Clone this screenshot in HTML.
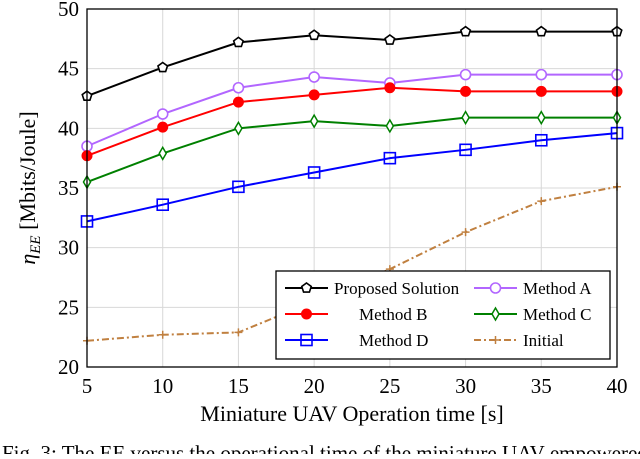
<!DOCTYPE html>
<html><head><meta charset="utf-8"><style>
body{margin:0;background:#fff;width:640px;height:454px;overflow:hidden;font-family:"Liberation Serif",serif}
svg text{font-family:"Liberation Serif",serif}
</style></head><body>
<svg id="c" width="640" height="454"></svg>
<script>
const xCats=[5,10,15,20,25,30,35,40];
const yTicks=[20,25,30,35,40,45,50];
const proposed=[42.7,45.1,47.2,47.8,47.4,48.1,48.1,48.1];
const methodA=[38.5,41.2,43.4,44.3,43.8,44.5,44.5,44.5];
const methodB=[37.7,40.1,42.2,42.8,43.4,43.1,43.1,43.1];
const methodC=[35.5,37.9,40.0,40.6,40.2,40.9,40.9,40.9];
const methodD=[32.2,33.6,35.1,36.3,37.5,38.2,39.0,39.6];
const initial=[22.2,22.7,22.9,25.5,28.2,31.3,33.9,35.1];
const L=87,R=617,T=9,B=367;
const X=v=>L+(v-5)/35*(R-L), Y=v=>B-(v-20)/30*(B-T);
const s=document.getElementById('c'),NS='http://www.w3.org/2000/svg';
function el(t,a,p){const e=document.createElementNS(NS,t);for(const k in a)e.setAttribute(k,a[k]);(p||s).appendChild(e);return e;}
xCats.forEach(v=>{const g=el('line',{x1:X(v),x2:X(v),y1:T,y2:B,stroke:'#d8d8d8','stroke-width':1});


const t=el('text',{x:X(v),y:393,'text-anchor':'middle','font-size':21});t.textContent=v;

});
yTicks.forEach(v=>{const g=el('line',{x1:L,x2:R,y1:Y(v),y2:Y(v),stroke:'#d8d8d8','stroke-width':1});


const t=el('text',{x:79,y:Y(v)+7,'text-anchor':'end','font-size':21});t.textContent=v;

});
function marker(type,x,y,c,g){
 if(type==='pent'){let p=[];for(let i=0;i<5;i++){const a=-Math.PI/2+i*2*Math.PI/5;p.push((x+5*Math.cos(a))+','+(y+5*Math.sin(a)));}
  return el('polygon',{points:p.join(' '),fill:'#fff',stroke:c,'stroke-width':1.6},g);}
 if(type==='circ')return el('circle',{cx:x,cy:y,r:5,fill:'#fff',stroke:c,'stroke-width':1.6},g);
 if(type==='dot')return el('circle',{cx:x,cy:y,r:5,fill:c,stroke:c},g);
 if(type==='sq')return el('rect',{x:x-5.5,y:y-5.5,width:11,height:11,fill:'none',stroke:c,'stroke-width':1.6},g);
 if(type==='dia')return el('polygon',{points:`${x},${y-6} ${x+3.5},${y} ${x},${y+6} ${x-3.5},${y}`,fill:'#fff',stroke:c,'stroke-width':1.5},g);
 if(type==='plus')return el('path',{d:`M${x-4},${y}H${x+4}M${x},${y-4}V${y+4}`,stroke:c,'stroke-width':1.5},g);
}
const series=[[proposed,'#000','pent','series-proposed',''],[methodA,'#b266ff','circ','series-method-a',''],[methodB,'#ff0000','dot','series-method-b',''],[methodC,'#008000','dia','series-method-c',''],[methodD,'#0000ff','sq','series-method-d',''],[initial,'#c08040','plus','series-initial','7,3,2,3']];
series.forEach(([d,c,m,n,da])=>{const g=el('g',{});


el('polyline',{points:d.map((v,i)=>X(xCats[i])+','+Y(v)).join(' '),fill:'none',stroke:c,'stroke-width':2,'stroke-dasharray':da},g);
d.forEach((v,i)=>marker(m,X(xCats[i]),Y(v),c,g));});
const ax=el('rect',{x:L,y:T,width:R-L,height:B-T,fill:'none',stroke:'#000','stroke-width':1.3});


const lg=el('g',{});


el('rect',{x:276,y:271,width:334,height:88,fill:'#fff',stroke:'#000','stroke-width':1.3},lg);
const ent=[[0,'Proposed Solution',285,288,334],[1,'Method A',474,288,523],[2,'Method B',285,314,359],[3,'Method C',474,314,523],[4,'Method D',285,340,359],[5,'Initial',474,340,523]];
ent.forEach(([i,txt,x,y,tx])=>{const [d,c,m,n,da]=series[i];
el('line',{x1:x,x2:x+43,y1:y,y2:y,stroke:c,'stroke-width':2,'stroke-dasharray':da},lg);
marker(m,x+21.5,y,c,lg);
const t=el('text',{x:tx,y:y+6,'font-size':17},lg);t.textContent=txt;

});
let t=el('text',{x:352,y:421,'text-anchor':'middle','font-size':22});t.textContent='Miniature UAV Operation time [s]';


t=el('text',{transform:'translate(35,188) rotate(-90)','text-anchor':'middle','font-size':22});
t.innerHTML='<tspan font-style="italic">η</tspan><tspan font-style="italic" font-size="15" dy="5">EE</tspan><tspan dy="-5"> [Mbits/Joule]</tspan>';


t=el('text',{x:2,y:460,'font-size':21});t.textContent='Fig. 3: The EE versus the operational time of the miniature UAV-empowered';


</script>
</body></html>
